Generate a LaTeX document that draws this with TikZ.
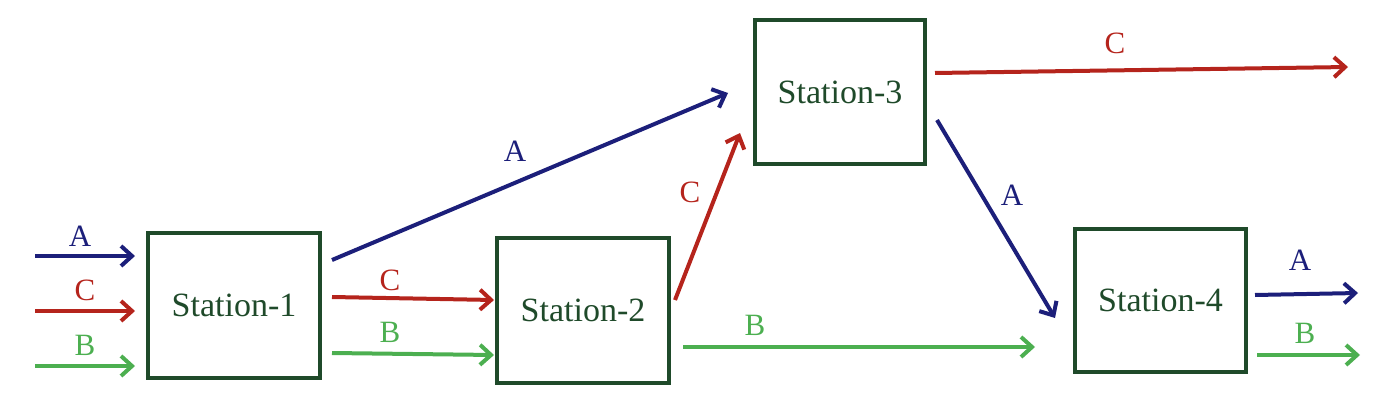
\documentclass[tikz,border=0pt]{standalone}
\usepackage{fontspec}
\setmainfont{Liberation Serif}
\usetikzlibrary{arrows.meta}
\definecolor{bx}{HTML}{1F4A2A}
\definecolor{cA}{HTML}{1C1F7A}
\definecolor{cC}{HTML}{B5241C}
\definecolor{cB}{HTML}{4CAF50}
\begin{document}
\begin{tikzpicture}[x=1pt,y=-1pt,
  station/.style={draw=bx,line width=4pt,text=bx,font=\fontsize{34}{40}\selectfont,inner sep=0pt,minimum width=172pt,minimum height=145pt},
  flow/.style={line width=4pt,-{Straight Barb[length=11pt,width=20pt,line width=4pt]}},
  lab/.style={font=\fontsize{31}{36}\selectfont}]
\useasboundingbox (0,0) rectangle (1378,412);
\node[station] (s1) at (234,305.5) {Station-1};
\node[station] (s2) at (583,310.5) {Station-2};
\node[station,minimum width=170pt,minimum height=144pt] (s3) at (840,92) {Station-3};
\node[station,minimum width=171pt,minimum height=143pt] (s4) at (1160.5,300.5) {Station-4};
\coordinate (iA) at (35,256); \coordinate (iAe) at (135,256);
\coordinate (iC) at (35,311); \coordinate (iCe) at (135,311);
\coordinate (iB) at (35,366); \coordinate (iBe) at (135,366);
\coordinate (oC) at (1348,67);
\coordinate (oA) at (1358,293);
\coordinate (oB) at (1360,355);
\draw[flow,cA] (iA) -- (iAe);
\draw[flow,cC] (iC) -- (iCe);
\draw[flow,cB] (iB) -- (iBe);
\node[lab,text=cA] (lA0) at (80,236) {A};
\node[lab,text=cC] (lC0) at (85,290) {C};
\node[lab,text=cB] (lB0) at (85,345) {B};
\draw[flow,cA] (332,260) -- (728,93);
\node[lab,text=cA] (lA1) at (515,151) {A};
\draw[flow,cC] (332,297) -- (494,300);
\node[lab,text=cC] (lC1) at (390,280) {C};
\draw[flow,cB] (332,353) -- (494,355);
\node[lab,text=cB] (lB1) at (390,332) {B};
\draw[flow,cC] (675,300) -- (740,133);
\node[lab,text=cC] (lC2) at (690,192) {C};
\draw[flow,cB] (683,347) -- (1035,347);
\node[lab,text=cB] (lB2) at (755,325) {B};
\draw[flow,cC] (935,73) -- (oC);
\node[lab,text=cC] (lC3) at (1115,43) {C};
\draw[flow,cA] (937,120) -- (1055,318);
\node[lab,text=cA] (lA3) at (1012,195) {A};
\draw[flow,cA] (1255,295) -- (oA);
\node[lab,text=cA] (lA4) at (1300,260) {A};
\draw[flow,cB] (1257,355) -- (oB);
\node[lab,text=cB] (lB4) at (1305,333) {B};
\end{tikzpicture}
\end{document}
